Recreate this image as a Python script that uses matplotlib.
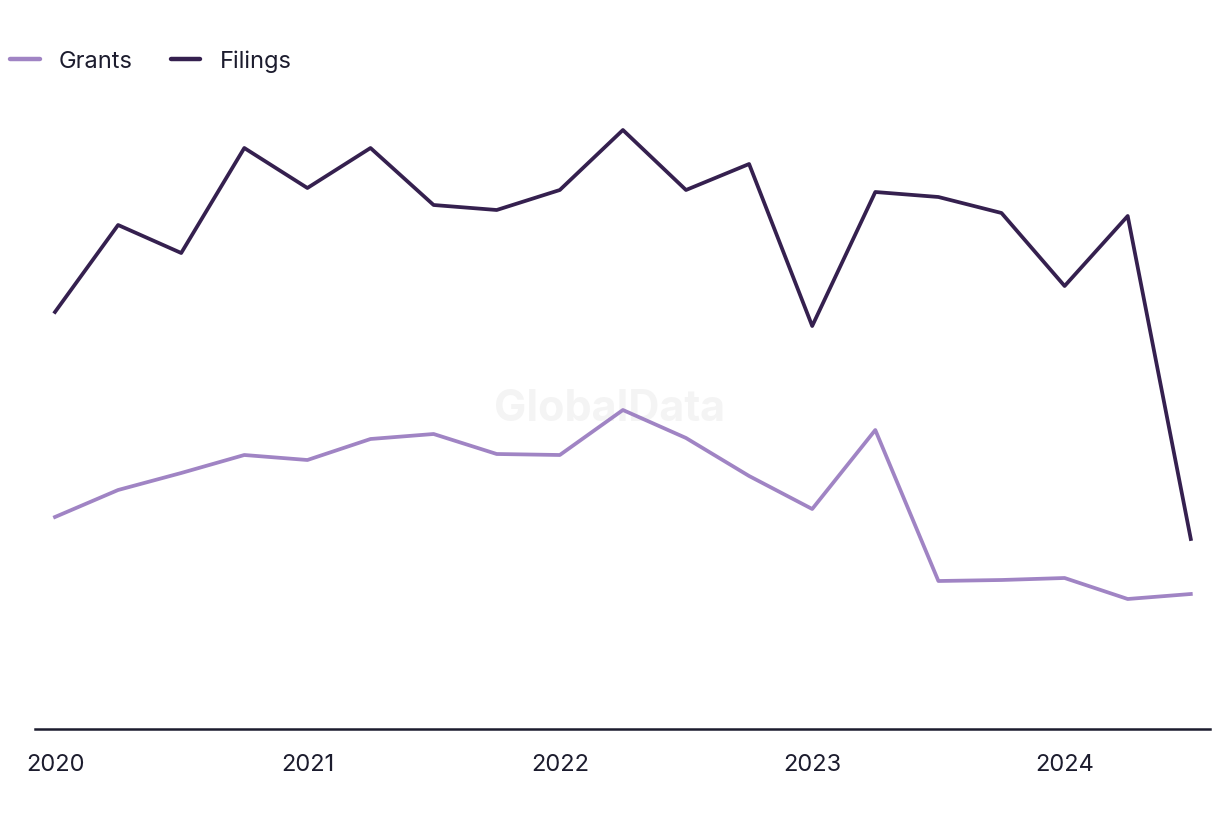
import matplotlib.pyplot as plt

plt.rcParams['font.family'] = ['Inter', 'DejaVu Sans']

# quarterly, 2020 Q1 .. 2024 Q3
quarters = list(range(19))
filings = [419, 506, 478, 583, 543, 583, 526, 521, 541, 601, 541, 567, 405, 539, 534, 518, 445, 515, 192]
grants = [214, 241, 258, 276, 271, 292, 297, 277, 276, 321, 293, 255, 222, 301, 150, 151, 153, 132, 137]
year_ticks = [0, 4, 8, 12, 16]
year_labels = ['2020', '2021', '2022', '2023', '2024']

text_col = '#1c1c2e'

fig = plt.figure(figsize=(12.2, 8.2), dpi=100)
ax = fig.add_axes([35 / 1220, 90 / 820, 1175 / 1220, 630 / 820])

ax.text(0.5, 0.5, 'GlobalData', transform=fig.transFigure, ha='center', va='center',
        fontsize=31, fontweight='bold', color='#f4f4f4', zorder=0)

ax.plot(quarters, grants, color='#a084c4', lw=2.7, label='Grants')
ax.plot(quarters, filings, color='#35204f', lw=2.7, label='Filings')

ax.set_xlim(-20 / 63.1, 1155 / 63.1)
ax.set_ylim(2, 632)

for s in ['top', 'right', 'left']:
    ax.spines[s].set_visible(False)
ax.spines['bottom'].set_color(text_col)
ax.spines['bottom'].set_linewidth(1.8)
ax.set_yticks([])
ax.set_xticks(year_ticks)
ax.set_xticklabels(year_labels)
ax.tick_params(axis='x', length=0, pad=17, labelsize=17, labelcolor=text_col)

leg = fig.legend(loc='center left', bbox_to_anchor=(10 / 1220, 1 - 62 / 820), ncol=2, frameon=False,
                 fontsize=17, labelcolor=text_col, handlelength=1.25, handletextpad=0.82,
                 columnspacing=1.6, borderaxespad=0.0, borderpad=0.0)
for line in leg.get_lines():
    line.set_solid_capstyle('round')
    line.set_linewidth(3.2)

fig.savefig('out.png', dpi=100)
